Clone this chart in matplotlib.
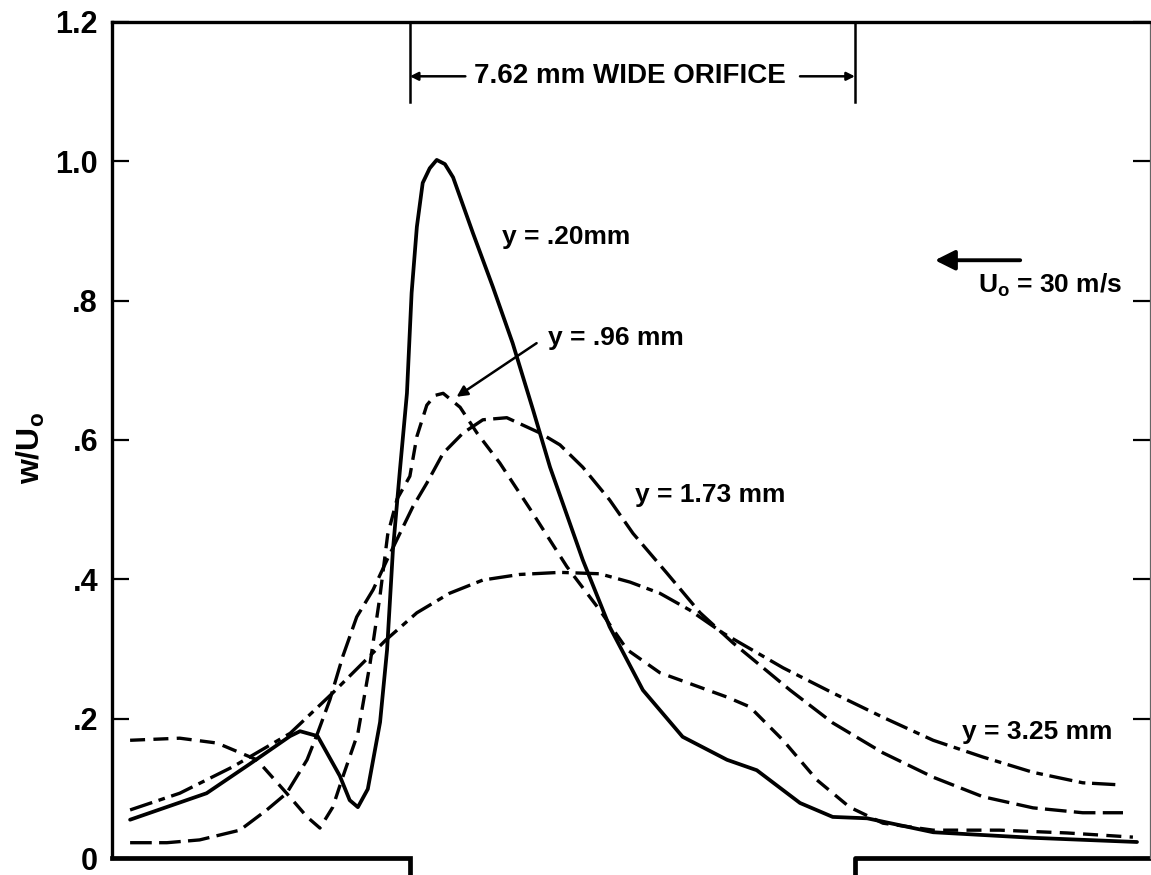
import matplotlib
matplotlib.use("Agg")
import matplotlib.pyplot as plt
import numpy as np

plt.rcParams['font.family'] = ['Liberation Sans', 'DejaVu Sans']
plt.rcParams['font.weight'] = 'bold'
plt.rcParams['mathtext.fontset'] = 'custom'
plt.rcParams['mathtext.rm'] = 'Liberation Sans:bold'
plt.rcParams['mathtext.bf'] = 'Liberation Sans:bold'
plt.rcParams['mathtext.it'] = 'Liberation Sans:bold'

# ---- data (x in mm, orifice from 0 to 7.62 mm; y = w/U0) ----
orifice_edges = [0.0, 7.62]

x_020 = [-4.79, -3.48, -2.74, -2.05, -1.88, -1.58, -1.20, -1.03, -0.89, -0.72, -0.51, -0.39,
         -0.29, -0.17, -0.05, 0.03, 0.12, 0.22, 0.34, 0.46, 0.60, 0.74, 1.08, 1.42, 1.76, 2.11,
         2.40, 2.96, 3.42, 3.99, 4.67, 5.43, 5.94, 6.68, 7.24, 7.83, 8.96, 10.67, 12.45]
w_020 = [0.055, 0.093, 0.135, 0.175, 0.182, 0.175, 0.118, 0.083, 0.073, 0.099, 0.195, 0.299,
         0.442, 0.557, 0.667, 0.811, 0.906, 0.969, 0.990, 1.002, 0.996, 0.977, 0.897, 0.820, 0.739, 0.643,
         0.561, 0.428, 0.332, 0.241, 0.174, 0.141, 0.126, 0.079, 0.059, 0.057, 0.037, 0.029, 0.023]

x_096 = [-4.79, -3.94, -3.30, -2.62, -2.11, -1.76, -1.54, -1.32, -1.15, -0.89, -0.68, -0.51,
         -0.38, -0.22, 0.00, 0.12, 0.29, 0.43, 0.57, 0.86, 1.15, 1.54, 2.05, 2.69, 3.25, 3.72, 4.28, 4.97,
         5.43, 5.82, 6.39, 6.97, 7.53, 8.10, 8.96, 10.10, 11.25, 12.38]
w_096 = [0.169, 0.172, 0.165, 0.141, 0.093, 0.059, 0.043, 0.073, 0.116, 0.179, 0.280, 0.377,
         0.464, 0.515, 0.548, 0.605, 0.650, 0.664, 0.667, 0.647, 0.610, 0.567, 0.502, 0.418, 0.356, 0.299,
         0.266, 0.245, 0.231, 0.217, 0.169, 0.112, 0.073, 0.050, 0.040, 0.040, 0.036, 0.030]

x_173 = [-4.79, -4.16, -3.60, -2.91, -2.45, -2.11, -1.76, -1.59, -1.37, -1.15, -0.91, -0.63,
         -0.39, -0.17, 0.05, 0.29, 0.57, 0.91, 1.25, 1.66, 2.23, 2.57, 2.96, 3.42, 3.82, 4.40,
         4.97, 5.53, 6.51, 7.24, 8.10, 8.96, 9.81, 10.67, 11.52, 12.21]
w_173 = [0.022, 0.022, 0.026, 0.040, 0.069, 0.093, 0.141, 0.177, 0.227, 0.289, 0.346, 0.385,
         0.428, 0.466, 0.504, 0.538, 0.581, 0.610, 0.629, 0.632, 0.610, 0.593, 0.561, 0.514, 0.466, 0.409,
         0.352, 0.309, 0.241, 0.194, 0.151, 0.116, 0.088, 0.072, 0.065, 0.065]

x_325 = [-4.79, -3.94, -3.03, -2.05, -1.32, -0.41, 0.12, 0.68, 1.25, 1.88, 2.57, 3.25, 3.77,
         4.28, 4.79, 5.36, 6.39, 7.24, 8.10, 8.96, 9.81, 10.67, 11.52, 12.16]
w_325 = [0.069, 0.093, 0.131, 0.179, 0.237, 0.313, 0.352, 0.380, 0.399, 0.407, 0.410, 0.408, 0.396,
         0.380, 0.356, 0.323, 0.273, 0.237, 0.202, 0.169, 0.145, 0.123, 0.108, 0.105]

y_ticks = [0, 0.2, 0.4, 0.6, 0.8, 1.0, 1.2]
y_ticklabels = ['0', '.2', '.4', '.6', '.8', '1.0', '1.2']

fig = plt.figure(figsize=(11.51, 8.75), dpi=100)
ax = fig.add_axes([0.0973, 0.0194, 0.9017, 0.9555])
ax.set_xlim(-5.10, 12.67)
ax.set_ylim(0, 1.2)

k = 'black'
ax.plot(x_020, w_020, color=k, lw=2.7, solid_capstyle='round', solid_joinstyle='round')
ax.plot(x_096, w_096, color=k, lw=2.4, dashes=(4.5, 2.5))
ax.plot(x_173, w_173, color=k, lw=2.4, dashes=(6.5, 2.2))
ax.plot(x_325, w_325, color=k, lw=2.4, dashes=(7, 2, 2, 2))

# spines
for s in ['left', 'top']:
    ax.spines[s].set_linewidth(2.4)
ax.spines['right'].set_linewidth(0.9)
ax.spines['right'].set_color('#666666')
ax.spines['bottom'].set_visible(False)

ax.set_xticks([])
ax.set_yticks(y_ticks)
ax.set_yticklabels(y_ticklabels, fontsize=22, fontweight='bold')
ax.tick_params(axis='y', direction='in', length=12, width=1.6, pad=10, right=True)
fig.text(31 / 1151, 1 - 448 / 875, r'$\mathbf{w/U_o}$', rotation=90, ha='center',
         va='center', fontsize=23)

# wall plates along bottom (orifice gap between edges)
x0, x1 = ax.get_xlim()
ax.plot([x0, orifice_edges[0], orifice_edges[0]], [0, 0, -0.021], color=k, lw=3.4,
        clip_on=False, solid_joinstyle='miter')
ax.plot([orifice_edges[1], orifice_edges[1], x1], [-0.025, 0, 0], color=k, lw=3.4,
        clip_on=False, solid_joinstyle='round')

# orifice markers at top
for xe in orifice_edges:
    ax.plot([xe, xe], [1.2, 1.085], color=k, lw=1.8)
ax.text(3.77, 1.122, '7.62 mm WIDE ORIFICE', ha='center', va='center',
        fontsize=20, fontweight='bold')
ax.annotate('', xy=(orifice_edges[0], 1.122), xytext=(0.95, 1.122),
            arrowprops=dict(arrowstyle='-|>', color=k, lw=1.8, mutation_scale=12,
                            shrinkA=0, shrinkB=0))
ax.annotate('', xy=(orifice_edges[1], 1.122), xytext=(6.68, 1.122),
            arrowprops=dict(arrowstyle='-|>', color=k, lw=1.8, mutation_scale=12,
                            shrinkA=0, shrinkB=0))

# curve labels
fs = 19
ax.text(1.58, 0.891, 'y = .20mm', ha='left', va='center', fontsize=fs, fontweight='bold')
ax.text(2.36, 0.746, 'y = .96 mm', ha='left', va='center', fontsize=fs, fontweight='bold')
ax.annotate('', xy=(0.80, 0.662), xytext=(2.17, 0.739),
            arrowprops=dict(arrowstyle='-|>', color=k, lw=1.8, mutation_scale=16,
                            shrinkA=0, shrinkB=0))
ax.text(3.85, 0.521, 'y = 1.73 mm', ha='left', va='center', fontsize=fs, fontweight='bold')
ax.text(9.45, 0.181, 'y = 3.25 mm', ha='left', va='center', fontsize=fs, fontweight='bold')

# free-stream velocity
ax.annotate('', xy=(8.99, 0.858), xytext=(10.45, 0.858),
            arrowprops=dict(arrowstyle='-|>', color=k, lw=2.8, mutation_scale=30,
                            shrinkA=0, shrinkB=0))
ax.text(9.73, 0.822, r'$\mathbf{U_o}$ = 30 m/s', ha='left', va='center', fontsize=fs,
        fontweight='bold')

fig.savefig('out.png', dpi=100)
